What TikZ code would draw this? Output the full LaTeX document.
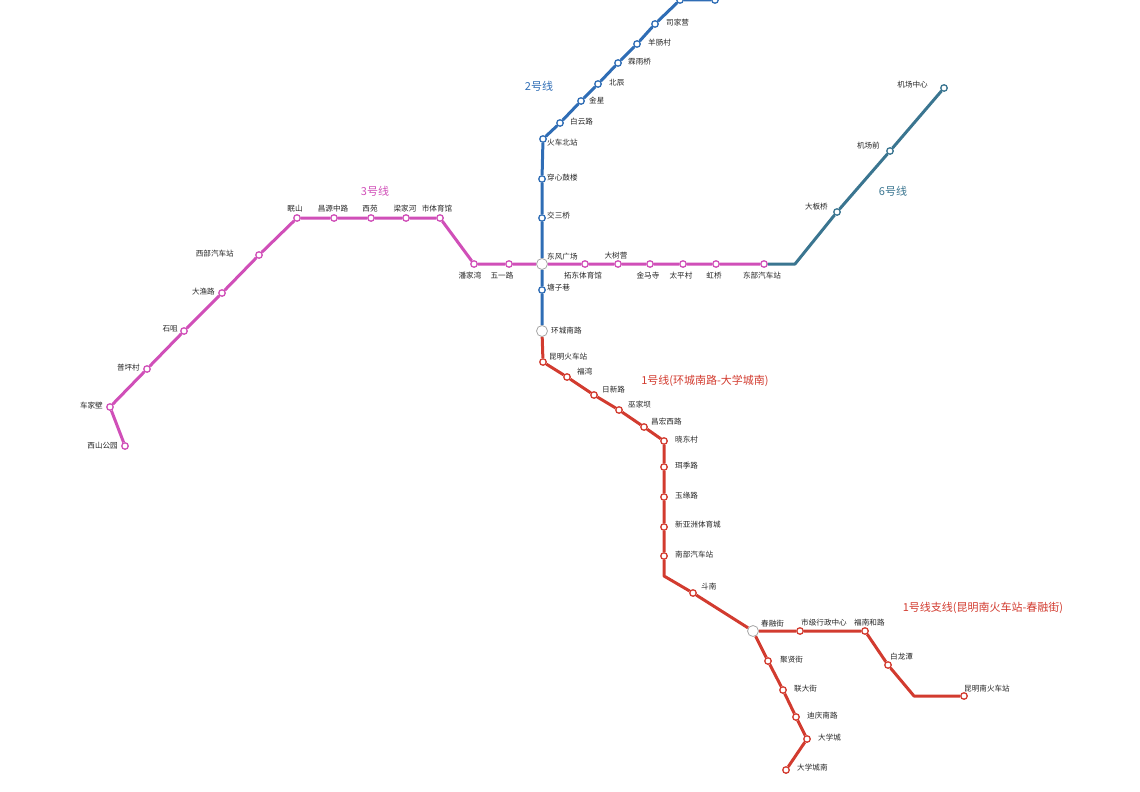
\documentclass[tikz,border=0pt]{standalone}
\usepackage{fontspec}
\newfontfamily\cjk{Noto Sans CJK SC}
\usepackage{xcolor}
\usepackage{tikz}
\usetikzlibrary{positioning}
\definecolor{lineone}{HTML}{D23B2F}
\definecolor{linetwo}{HTML}{2F6DB5}
\definecolor{linethree}{HTML}{D04FB8}
\definecolor{linesix}{HTML}{3A7590}
\tikzset{
  st/.style={circle,draw=#1,fill=white,line width=1.3pt,minimum size=6.5pt,inner sep=0pt},
  hub/.style={circle,draw=gray!70,fill=white,line width=0.8pt,minimum size=11pt,inner sep=0pt},
  lbl/.style={font=\cjk\fontsize{7.6}{8.5}\selectfont,inner sep=1pt,text=black!85},
  ttl/.style={font=\cjk\fontsize{11}{12}\selectfont,text=#1},
  track/.style={draw=#1,line width=3pt,line join=round}
}
\begin{document}
\begin{tikzpicture}[x=1pt,y=-1pt]
\useasboundingbox (0,0) rectangle (1140,792);

% interchanges
\node[hub] (dfgc) at (542,264) {};
\node[hub] (hcnl) at (542,331) {};
\node[hub] (crj) at (753,631) {};
\node[lbl,anchor=south west] at (546,261) {东风广场};
\node[lbl,anchor=west] at (550,331) {环城南路};
\node[lbl,anchor=south west] at (760,628) {春融街};

% line 2
\node[st=linetwo] (bb) at (715,0) {};
\node[st=linetwo] (ba) at (680,0) {};
\node[st=linetwo] (sjy) at (655,24) {};
\node[st=linetwo] (ycc) at (637,44) {};
\node[st=linetwo] (lyq) at (618,63) {};
\node[st=linetwo] (bc) at (598,84) {};
\node[st=linetwo] (jx) at (581,101) {};
\node[st=linetwo] (byl) at (560,123) {};
\node[st=linetwo] (hcbz) at (543,139) {};
\node[st=linetwo] (cxgl) at (542,179) {};
\node[st=linetwo] (jsq) at (542,218) {};
\node[st=linetwo] (tzx) at (542,290) {};
\draw[track=linetwo] (bb) -- (ba) -- (sjy) -- (ycc) -- (lyq) -- (bc) -- (jx) -- (byl) -- (hcbz) -- (cxgl) -- (jsq) -- (dfgc) -- (tzx) -- (hcnl);
\node[lbl,anchor=west] at (665,23) {司家营};
\node[lbl,anchor=west] at (647,43) {羊肠村};
\node[lbl,anchor=west] at (627,62) {霖雨桥};
\node[lbl,anchor=west] at (608,83) {北辰};
\node[lbl,anchor=west] at (588,100) {金星};
\node[lbl,anchor=west] at (569,122) {白云路};
\node[lbl,anchor=west] at (546,143) {火车北站};
\node[lbl,anchor=west] at (546,178) {穿心鼓楼};
\node[lbl,anchor=west] at (546,216) {交三桥};
\node[lbl,anchor=west] at (546,288) {塘子巷};
\node[ttl=linetwo] at (539,86) {2号线};

% line 3
\node[st=linethree] (xsgy) at (125,446) {};
\node[st=linethree] (cjb) at (110,407) {};
\node[st=linethree] (ppc) at (147,369) {};
\node[st=linethree] (sz) at (184,331) {};
\node[st=linethree] (dyl) at (222,293) {};
\node[st=linethree] (xbqcz) at (259,255) {};
\node[st=linethree] (ms) at (297,218) {};
\node[st=linethree] (cyzl) at (334,218) {};
\node[st=linethree] (xy) at (371,218) {};
\node[st=linethree] (ljh) at (406,218) {};
\node[st=linethree] (stg) at (440,218) {};
\node[st=linethree] (pjw) at (474,264) {};
\node[st=linethree] (wyl) at (509,264) {};
\node[st=linethree] (tdtg) at (585,264) {};
\node[st=linethree] (dsy) at (618,264) {};
\node[st=linethree] (jms) at (650,264) {};
\node[st=linethree] (tpc) at (683,264) {};
\node[st=linethree] (hq) at (716,264) {};
\node[st=linethree] (dbqcz) at (764,264) {};
\draw[track=linethree] (xsgy) -- (cjb) -- (ppc) -- (sz) -- (dyl) -- (xbqcz) -- (ms) -- (cyzl) -- (xy) -- (ljh) -- (stg) -- (pjw) -- (wyl) -- (dfgc) -- (tdtg) -- (dsy) -- (jms) -- (tpc) -- (hq) -- (dbqcz);
\node[lbl,anchor=east] at (119,446) {西山公园};
\node[lbl,anchor=east] at (104,406) {车家壁};
\node[lbl,anchor=east] at (141,368) {普坪村};
\node[lbl,anchor=east] at (179,329) {石咀};
\node[lbl,anchor=east] at (216,292) {大渔路};
\node[lbl,anchor=east] at (235,254) {西部汽车站};
\node[lbl,anchor=south] at (295,213) {眠山};
\node[lbl,anchor=south] at (333,213) {昌源中路};
\node[lbl,anchor=south] at (370,213) {西苑};
\node[lbl,anchor=south] at (405,213) {梁家河};
\node[lbl,anchor=south] at (437,213) {市体育馆};
\node[lbl,anchor=north] at (470,271) {潘家湾};
\node[lbl,anchor=north] at (502,271) {五一路};
\node[lbl,anchor=north] at (583,271) {拓东体育馆};
\node[lbl,anchor=south] at (616,260) {大树营};
\node[lbl,anchor=north] at (648,271) {金马寺};
\node[lbl,anchor=north] at (681,271) {太平村};
\node[lbl,anchor=north] at (714,271) {虹桥};
\node[lbl,anchor=north] at (762,271) {东部汽车站};
\node[ttl=linethree] at (375,191) {3号线};

% line 6
\coordinate (l6k) at (795,264);
\node[st=linesix] (dbq) at (837,212) {};
\node[st=linesix] (jcq) at (890,151) {};
\node[st=linesix] (jczx) at (944,88) {};
\draw[track=linesix] (dbqcz) -- (l6k) -- (dbq) -- (jcq) -- (jczx);
\node[lbl,anchor=south east] at (829,211) {大板桥};
\node[lbl,anchor=south east] at (881,150) {机场前};
\node[lbl,anchor=south east] at (929,89) {机场中心};
\node[ttl=linesix] at (893,191) {6号线};

% line 1
\node[st=lineone] (kmhcz) at (543,362) {};
\node[st=lineone] (fw) at (567,377) {};
\node[st=lineone] (rxl) at (594,395) {};
\node[st=lineone] (wjb) at (619,410) {};
\node[st=lineone] (chxl) at (644,427) {};
\node[st=lineone] (xdc) at (664,441) {};
\node[st=lineone] (ejl) at (664,467) {};
\node[st=lineone] (yyl) at (664,497) {};
\node[st=lineone] (xyztyc) at (664,527) {};
\node[st=lineone] (nbqcz) at (664,556) {};
\coordinate (l1k) at (664,576);
\node[st=lineone] (dn) at (693,593) {};
\node[st=lineone] (jxj) at (768,661) {};
\node[st=lineone] (ldj) at (783,690) {};
\node[st=lineone] (dqnl) at (796,717) {};
\node[st=lineone] (dxc) at (807,739) {};
\node[st=lineone] (dxcn) at (786,770) {};
\draw[track=lineone] (hcnl) -- (kmhcz) -- (fw) -- (rxl) -- (wjb) -- (chxl) -- (xdc) -- (ejl) -- (yyl) -- (xyztyc) -- (nbqcz) -- (l1k) -- (dn) -- (crj) -- (jxj) -- (ldj) -- (dqnl) -- (dxc) -- (dxcn);
\node[lbl,anchor=south west] at (548,361) {昆明火车站};
\node[lbl,anchor=south west] at (576,376) {福湾};
\node[lbl,anchor=south west] at (601,394) {日新路};
\node[lbl,anchor=south west] at (627,409) {巫家坝};
\node[lbl,anchor=south west] at (650,426) {昌宏西路};
\node[lbl,anchor=west] at (674,440) {晓东村};
\node[lbl,anchor=west] at (674,466) {珥季路};
\node[lbl,anchor=west] at (674,496) {玉缘路};
\node[lbl,anchor=west] at (674,525) {新亚洲体育城};
\node[lbl,anchor=west] at (674,555) {南部汽车站};
\node[lbl,anchor=south west] at (700,591) {斗南};
\node[lbl,anchor=west] at (779,660) {聚贤街};
\node[lbl,anchor=west] at (793,689) {联大街};
\node[lbl,anchor=west] at (806,716) {迪庆南路};
\node[lbl,anchor=west] at (817,738) {大学城};
\node[lbl,anchor=west] at (796,768) {大学城南};
\node[ttl=lineone] at (705,381) {1号线(环城南路-大学城南)};

% line 1 branch
\node[st=lineone] (sjxzzx) at (800,631) {};
\node[st=lineone] (fnhl) at (865,631) {};
\node[st=lineone] (blt) at (888,665) {};
\coordinate (zxk) at (914,696);
\node[st=lineone] (kmnhcz) at (964,696) {};
\draw[track=lineone] (crj) -- (sjxzzx) -- (fnhl) -- (blt) -- (zxk) -- (kmnhcz);
\node[lbl,anchor=south west] at (800,627) {市级行政中心};
\node[lbl,anchor=south west] at (853,627) {福南和路};
\node[lbl,anchor=south west] at (889,661) {白龙潭};
\node[lbl,anchor=south west] at (963,693) {昆明南火车站};
\node[ttl=lineone] at (983,608) {1号线支线(昆明南火车站-春融街)};
\end{tikzpicture}
\end{document}
